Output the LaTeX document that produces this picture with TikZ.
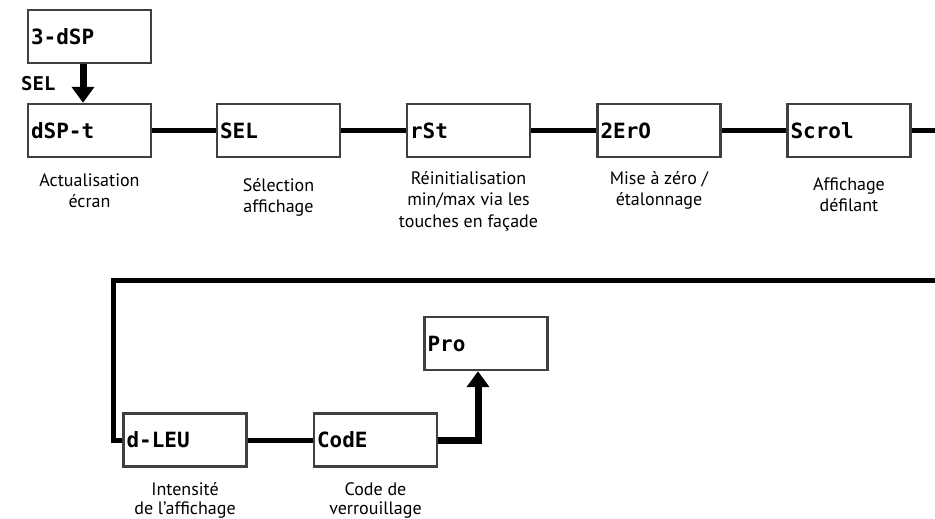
\documentclass[tikz,border=0pt]{standalone}
\usepackage{fontspec}
\setmainfont{PT Sans}
\newfontfamily\lcdfont{DejaVu Sans Mono}
\usetikzlibrary{positioning,arrows.meta}

\tikzstyle{display} = [draw=black!75,line width=2.4pt,minimum width=123pt,minimum height=53pt,text width=117pt,inner sep=3pt,align=left,font=\lcdfont\bfseries\fontsize{21}{21}\selectfont]
\tikzstyle{caption} = [align=center,inner sep=0pt,font=\fontsize{18}{21.5}\selectfont]
\tikzstyle{lowcaption} = [align=center,inner sep=0pt,font=\fontsize{18}{19}\selectfont]
\tikzstyle{keylabel} = [inner sep=0pt,font=\lcdfont\bfseries\fontsize{19}{19}\selectfont]
\tikzstyle{link} = [draw,line width=5pt,-]
\tikzstyle{arrowdecorate} = [-{Triangle[width=22pt,length=16pt]},line width=7pt]

\begin{document}
\begin{tikzpicture}[x=1pt,y=-1pt]
  \useasboundingbox (0,0) rectangle (935,519);

  \foreach \nodename/\value/\x/\y in {
    dsp3/3-dSP/89.5/36.5,
    dspt/dSP-t/89.5/130.5,
    sel/SEL/278.5/130.5,
    rst/rSt/468.5/130.5,
    zero/2ErO/659/130.5,
    scrol/Scrol/849/130.5,
    dlev/d-LEU/185/440,
    code/CodE/375.5/440,
    pro/Pro/486/343.5}
  {
    \node[display] (\nodename) at (\x,\y) {\value};
  }

  \foreach \nodename/\gap/\style/\caption in {
    dspt/15pt/caption/{Actualisation\\écran},
    sel/20pt/caption/{Sélection\\affichage},
    rst/13pt/caption/{Réinitialisation\\min/max via les\\touches en façade},
    zero/13pt/caption/{Mise à zéro /\\étalonnage},
    scrol/19pt/caption/{Affichage\\défilant},
    dlev/15pt/lowcaption/{Intensité\\de l’affichage},
    code/15pt/lowcaption/{Code de\\verrouillage}}
  {
    \node[\style, below=\gap of \nodename] (\nodename-cap) {\caption};
  }

  %edges or lines
  \path
  \foreach \startnode/\endnode in {
    dspt/sel, sel/rst, rst/zero, zero/scrol, dlev/code}
  {
    (\startnode) edge[link] (\endnode)
  };

  \coordinate (rowend) at (935,130.5);
  \coordinate (wrapend) at (935,280);
  \coordinate (wrapcorner) at (113,280);
  \draw[link] (scrol) -- (rowend);
  \draw[link] (wrapend) -- (wrapcorner) |- (dlev);

  \draw[arrowdecorate] ([xshift=-6.5pt]dsp3.south) -- node[keylabel, left=24pt] (selkey) {SEL} ([xshift=-6.5pt]dspt.north);
  \draw[arrowdecorate] (code) -| ([xshift=-8pt]pro.south);

\end{tikzpicture}
\end{document}
